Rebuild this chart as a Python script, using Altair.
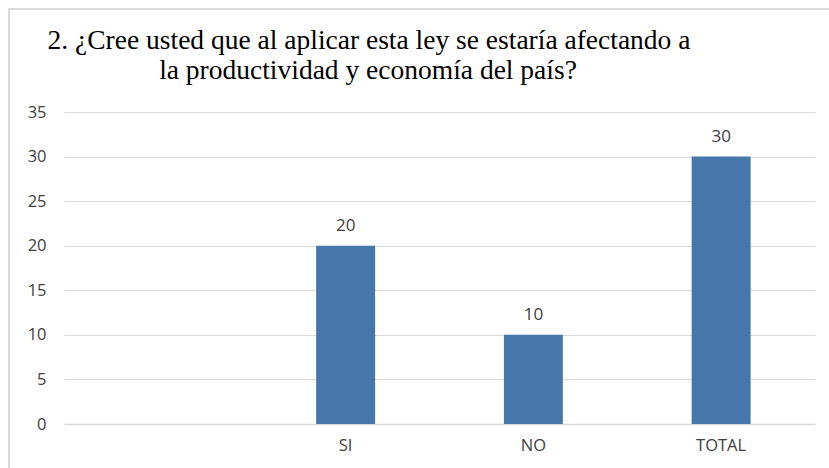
import altair as alt
import pandas as pd

categories = ["", "SI", "NO", "TOTAL"]
values = [None, 20, 10, 30]
y_ticks = [0, 5, 10, 15, 20, 25, 30, 35]
title_lines = [
    "2. ¿Cree usted que al aplicar esta ley se estaría afectando a",
    "la productividad y economía del país?",
]

df = pd.DataFrame({"cat": categories, "val": values})

x_enc = alt.X(
    "cat:N",
    sort=categories,
    scale=alt.Scale(domain=categories, paddingInner=0.686, paddingOuter=0.343),
    axis=alt.Axis(
        title=None, labelAngle=0, ticks=False, domain=True, domainColor="#d9d9d9",
        domainWidth=1.5, labelFont="Open Sans", labelFontSize=16.5, labelColor="#404040",
        labelPadding=13,
    ),
)
y_enc = alt.Y(
    "val:Q",
    scale=alt.Scale(domain=[0, 35], nice=False),
    axis=alt.Axis(
        title=None, values=y_ticks, ticks=False, domain=False, grid=True,
        gridColor="#d9d9d9", gridWidth=1, labelFont="Open Sans", labelFontSize=16.5,
        labelColor="#404040", labelPadding=18,
    ),
)

base = alt.Chart(df)
bars = base.transform_filter("datum.val != null").mark_bar(color="#4677aa").encode(x=x_enc, y=y_enc)
labels = base.transform_filter("datum.val != null").mark_text(
    dy=-20, baseline="middle", font="Open Sans", fontSize=17, color="#404040"
).encode(x=alt.X("cat:N", sort=categories), y="val:Q", text="val:Q")

border = alt.Chart(alt.Data(values=[{}])).mark_rect(
    fill=None, stroke="#d9d9d9", strokeWidth=2
).encode(
    x=alt.value(-55), x2=alt.value(780), y=alt.value(-103), y2=alt.value(370)
)

title_style = dict(font="Liberation Serif", fontSize=27.5, color="#000000",
                   align="center", baseline="alphabetic")
title1 = alt.Chart(alt.Data(values=[{"t": title_lines[0]}])).mark_text(**title_style).encode(
    text="t:N", x=alt.value(305), y=alt.value(-63)
)
title2 = alt.Chart(alt.Data(values=[{"t": title_lines[1]}])).mark_text(**title_style).encode(
    text="t:N", x=alt.value(304), y=alt.value(-33)
)

chart = alt.layer(border, bars, labels, title1, title2).properties(
    width=751,
    height=312,
    autosize=alt.AutoSizeParams(type="none"),
    padding={"left": 64, "top": 112, "right": 14, "bottom": 44},
).configure_view(stroke=None)

chart.save("out.html", embed_options={"renderer": "svg", "actions": False})
